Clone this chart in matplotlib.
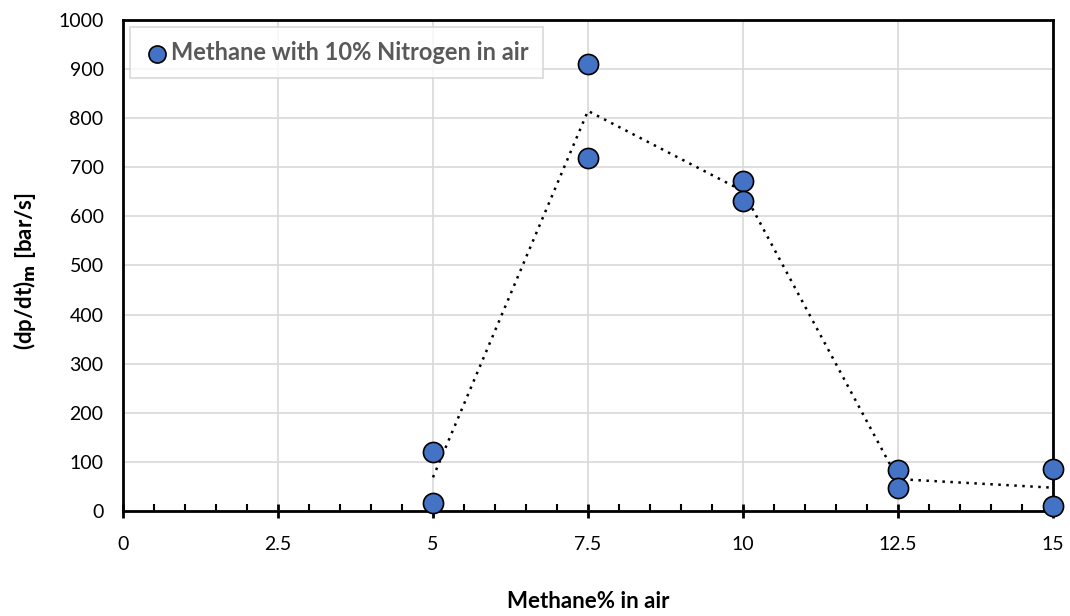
import numpy as np
import matplotlib.pyplot as plt
from matplotlib.ticker import MultipleLocator

plt.rcParams['font.family'] = ['Lato', 'DejaVu Sans']

# measured peak pressure-rise rates, two runs per concentration
methane_pct = [5, 5, 7.5, 7.5, 10, 10, 12.5, 12.5, 15, 15]
rate = [121, 17, 910, 719, 672, 631, 83, 48, 85, 11]

conc_levels = [5, 7.5, 10, 12.5, 15]
x_ticks = [0, 2.5, 5, 7.5, 10, 12.5, 15]

x = np.array(methane_pct)
y = np.array(rate)
mean_rate = [y[x == c].mean() for c in conc_levels]

fig = plt.figure(figsize=(10.70, 6.16), dpi=100)
ax = fig.add_axes([0.115, 0.170, 0.869, 0.798])

ax.plot(conc_levels, mean_rate, color='black', linestyle=(0, (1, 2.2)),
        linewidth=1.8, zorder=2)
ax.scatter(x, y, s=210, color='#4472C4', edgecolor='black', linewidth=1.2,
           zorder=3, clip_on=False, label='Methane with 10% Nitrogen in air')

ax.set_xlim(0, 15)
ax.set_ylim(0, 1000)
ax.set_xticks(x_ticks)
ax.set_xticklabels(['0', '2.5', '5', '7.5', '10', '12.5', '15'])
ax.xaxis.set_minor_locator(MultipleLocator(0.5))
ax.yaxis.set_major_locator(MultipleLocator(100))

ax.grid(True, which='major', color='#d9d9d9', linewidth=1.2, zorder=0)
ax.set_axisbelow(True)

for side in ['left', 'right', 'top', 'bottom']:
    ax.spines[side].set_linewidth(2.0)
    ax.spines[side].set_color('black')

ax.tick_params(axis='x', which='major', direction='inout', length=10, width=2.0,
               labelsize=14, pad=13)
ax.tick_params(axis='x', which='minor', direction='in', length=5, width=1.5)
ax.tick_params(axis='y', which='major', length=0, labelsize=14, pad=14)

fig.text(0.5495, 0.024, 'Methane% in air', fontsize=16, fontweight='bold',
         ha='center', va='center')
fig.text(0.023, 0.56, r'(dp/dt)$_\mathbf{m}$ [bar/s]', fontsize=16, fontweight='bold',
         ha='center', va='center', rotation=90)

leg = ax.legend(loc='upper left', fontsize=17, frameon=True, fancybox=False,
                borderaxespad=0.3, handletextpad=0.05, markerscale=0.85,
                borderpad=0.6, handlelength=1.1)
leg.get_frame().set_edgecolor('#d0d0d0')
leg.get_frame().set_linewidth(1.2)
for t in leg.get_texts():
    t.set_color('#595959')
    t.set_fontweight('bold')

fig.savefig('out.png', dpi=100)
